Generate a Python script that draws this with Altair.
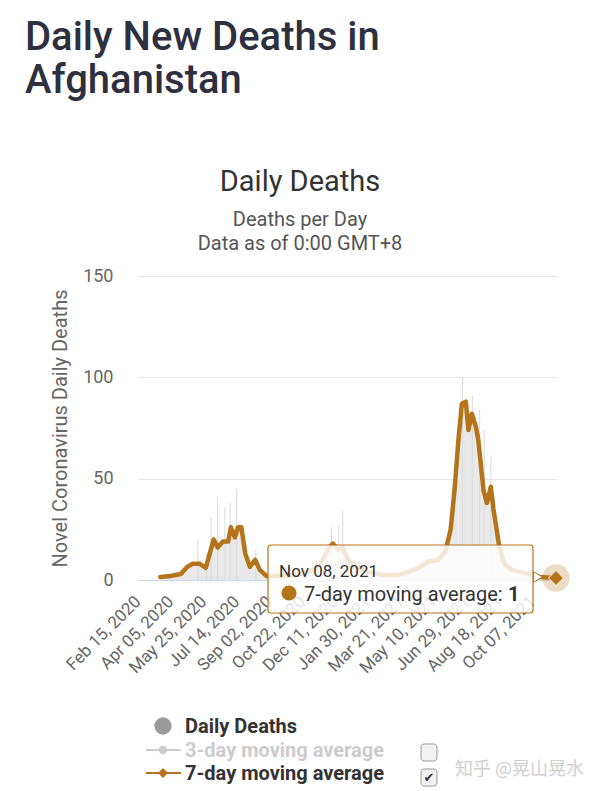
import altair as alt
import pandas as pd

# 7-day moving average of daily deaths
ma_dates = [
    "2020-03-17", "2020-04-01", "2020-04-17", "2020-04-27", "2020-05-05", "2020-05-16",
    "2020-05-25", "2020-06-06", "2020-06-12", "2020-06-20", "2020-06-28", "2020-07-02",
    "2020-07-08", "2020-07-13", "2020-07-18", "2020-07-24", "2020-07-31", "2020-08-08",
    "2020-08-15", "2020-08-25", "2020-09-19", "2020-10-12", "2020-11-04", "2020-11-19",
    "2020-11-26", "2020-12-04", "2020-12-12", "2020-12-19", "2020-12-27", "2021-01-07",
    "2021-01-27", "2021-02-18", "2021-03-13", "2021-03-29", "2021-04-13", "2021-04-28",
    "2021-05-13", "2021-05-24", "2021-06-01", "2021-06-07", "2021-06-13", "2021-06-18",
    "2021-06-24", "2021-06-28", "2021-07-03", "2021-07-09", "2021-07-13", "2021-07-21",
    "2021-07-26", "2021-08-01", "2021-08-05", "2021-08-13", "2021-08-21", "2021-09-02",
    "2021-09-23", "2021-10-13", "2021-11-08",
]
ma_values = [
    1.5, 2, 3, 6.5, 8, 8,
    6, 20, 16, 19, 19, 26,
    21, 26, 26, 13, 6.5, 10,
    5, 2, 2, 2.5, 5, 10,
    15, 18, 15, 16, 10, 7,
    4, 2.5, 2.5, 4, 6, 9,
    10, 14, 25, 45, 70, 87,
    88, 74, 82, 76, 69, 44,
    38, 46, 35, 18, 8, 5,
    3.5, 1.5, 1,
]

# tallest single-day death counts (grey spikes)
spike_dates = [
    "2020-05-13", "2020-05-26", "2020-06-02", "2020-06-12", "2020-06-23", "2020-07-01",
    "2020-07-11", "2020-08-09", "2020-12-02", "2020-12-13", "2020-12-19", "2021-06-19",
    "2021-07-04", "2021-07-15", "2021-07-22", "2021-08-01",
]
spike_values = [20, 13, 31, 41, 36, 38, 45, 15, 26, 27, 34, 100, 91, 84, 74, 61]

tick_dates = [
    (2020, 2, 15), (2020, 4, 5), (2020, 5, 25), (2020, 7, 14), (2020, 9, 2),
    (2020, 10, 22), (2020, 12, 11), (2021, 1, 30), (2021, 3, 21), (2021, 5, 10),
    (2021, 6, 29), (2021, 8, 18), (2021, 10, 7),
]
y_ticks = [0, 50, 100, 150]

BROWN = "#b5731a"
FONT = "Roboto"

ma = pd.DataFrame({"date": [d + "T00:00:00" for d in ma_dates], "value": ma_values})
spikes = pd.DataFrame({"date": [d + "T00:00:00" for d in spike_dates],
                       "value": spike_values, "base": [0] * len(spike_values)})
last = ma.tail(1)

W, H = 418, 304

x_axis = alt.Axis(
    values=[alt.DateTime(year=y, month=m, date=d) for (y, m, d) in tick_dates],
    format="%b %d, %Y", labelAngle=-45, labelAlign="right", labelBaseline="top",
    labelFontSize=17, labelColor="#666666", labelFont=FONT, labelPadding=13,
    labelOffset=-8,
    labelOverlap=False, labelBound=False, labelFlush=False,
    grid=False, ticks=False, domain=True, domainColor="#ccd6eb", title=None,
)
x_scale = alt.Scale(domain=[alt.DateTime(year=2020, month=2, date=12),
                            alt.DateTime(year=2021, month=11, date=8)])
y_axis = alt.Axis(
    values=y_ticks, labelFontSize=18, labelColor="#666666", labelFont=FONT,
    labelPadding=25, grid=True, gridColor="#e6e6e6", domain=False, ticks=False,
    title="Novel Coronavirus Daily Deaths", titleFont=FONT, titleFontSize=20,
    titleFontWeight="normal", titleColor="#666666", titlePadding=12,
)
y_scale = alt.Scale(domain=[0, 150], nice=False)


def X(field="date:T"):
    return alt.X(field, scale=x_scale, axis=x_axis)


def Y(field="value:Q"):
    return alt.Y(field, scale=y_scale, axis=y_axis)


area = alt.Chart(ma).mark_area(color="#e9e9e9").encode(x=X(), y=Y())
spk = alt.Chart(spikes).mark_rule(color="#d9d9d9", strokeWidth=1).encode(
    x=X(), y=Y(), y2="base:Q")
line = alt.Chart(ma).mark_line(color=BROWN, strokeWidth=4.5, strokeJoin="round",
                               strokeCap="round").encode(x=X(), y=Y())


def txt(t, x, y, size, color="#333333", weight="normal", font=FONT, align="left",
        baseline="alphabetic", line_height=None):
    kw = dict(fontSize=size, color=color, fontWeight=weight, font=font, align=align,
              baseline=baseline)
    if line_height:
        kw["lineHeight"] = line_height
    return alt.Chart(pd.DataFrame({"t": [t]})).mark_text(**kw).encode(
        text="t:N", x=alt.value(x), y=alt.value(y))


def one():
    return pd.DataFrame({"a": [0]})


# tooltip callout
tip_ptr = alt.Chart(one()).mark_point(shape="triangle-right", filled=True, fill="white",
                                      stroke=BROWN, strokeWidth=1, size=110, opacity=1).encode(
    x=alt.value(400), y=alt.value(301))
tip_box = alt.Chart(one()).mark_rect(fill="white", fillOpacity=0.82, stroke=BROWN,
                                     strokeWidth=1.2, cornerRadius=3).encode(
    x=alt.value(130), x2=alt.value(395), y=alt.value(269), y2=alt.value(337))
tip_date = txt("Nov 08, 2021", 141, 301, 17)
tip_dot = alt.Chart(one()).mark_point(shape="circle", filled=True, color=BROWN,
                                      size=230, opacity=1).encode(
    x=alt.value(151), y=alt.value(317))
tip_lbl = txt("7-day moving average: ", 166, 325, 20)
tip_val = txt("1", 370, 325, 20, weight="bold")

halo = alt.Chart(last).mark_point(shape="circle", filled=True, color=BROWN, opacity=0.25,
                                  size=750).encode(x=X(), y=Y())
diam = alt.Chart(last).mark_point(shape="diamond", filled=True, fill=BROWN, stroke="white",
                                  strokeWidth=1, size=230, opacity=1).encode(x=X(), y=Y())

# titles
title1 = txt(["Daily New Deaths in", "Afghanistan"], -113, -226, 40, color="#2e3040",
             weight=500, line_height=43)
title2 = txt("Daily Deaths", 162, -85, 29, color="#333333", align="center")
sub1 = txt("Deaths per Day", 162, -50, 20, color="#555555", align="center")
sub2 = txt("Data as of 0:00 GMT+8", 162, -26, 20, color="#555555", align="center")

# legend
lg_dot = alt.Chart(one()).mark_point(shape="circle", filled=True, color="#9a9a9a",
                                     size=300, opacity=1).encode(x=alt.value(25), y=alt.value(450))
lg_t1 = txt("Daily Deaths", 47, 457, 20, color="#333333", weight="bold")
lg_l2 = alt.Chart(one()).mark_rule(color="#cccccc", strokeWidth=2).encode(
    x=alt.value(8), x2=alt.value(43), y=alt.value(474))
lg_p2 = alt.Chart(one()).mark_point(shape="circle", filled=True, color="#cccccc",
                                    size=70, opacity=1).encode(x=alt.value(25), y=alt.value(474))
lg_t2 = txt("3-day moving average", 47, 481, 20, color="#cccccc", weight="bold")
lg_l3 = alt.Chart(one()).mark_rule(color=BROWN, strokeWidth=2).encode(
    x=alt.value(8), x2=alt.value(43), y=alt.value(497))
lg_p3 = alt.Chart(one()).mark_point(shape="diamond", filled=True, color=BROWN,
                                    size=100, opacity=1).encode(x=alt.value(25), y=alt.value(497))
lg_t3 = txt("7-day moving average", 47, 504, 20, color="#333333", weight="bold")
cb1 = alt.Chart(one()).mark_rect(fill="#f2f2f2", stroke="#9a9a9a", strokeWidth=1,
                                 cornerRadius=3).encode(
    x=alt.value(283), x2=alt.value(299), y=alt.value(468), y2=alt.value(485))
cb2 = alt.Chart(one()).mark_rect(fill="#f2f2f2", stroke="#9a9a9a", strokeWidth=1,
                                 cornerRadius=3).encode(
    x=alt.value(283), x2=alt.value(299), y=alt.value(493), y2=alt.value(510))
cb_chk = txt("✔", 291, 502, 13, color="#333333", font="DejaVu Sans", align="center",
             baseline="middle")
wm = txt("知乎 @晃山晃水", 317, 499, 18, color="#cfcfcf", font="Noto Sans CJK SC")

chart = alt.layer(
    area, spk, line, tip_ptr, tip_box, tip_date, tip_dot, tip_lbl, tip_val, halo, diam,
    title1, title2, sub1, sub2,
    lg_dot, lg_t1, lg_l2, lg_p2, lg_t2, lg_l3, lg_p3, lg_t3, cb1, cb2, cb_chk, wm,
).properties(
    width=W, height=H,
    padding={"left": 130, "top": 268, "right": 36, "bottom": 210},
    autosize=alt.AutoSizeParams(type="none"),
    background="white",
).configure_view(stroke=None).configure_axisX(labelOverlap=False)

chart.save("out.html", embed_options={"renderer": "svg", "actions": False})
